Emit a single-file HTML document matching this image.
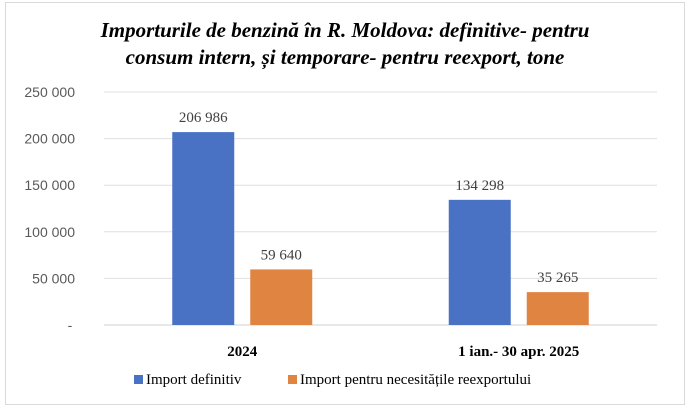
<!DOCTYPE html>
<html><head><meta charset="utf-8"><style>
body{margin:0;background:#fff;}
svg{display:block;font-family:"Liberation Sans",sans-serif;}
.ser{font-family:"Liberation Serif",serif;}
</style></head><body>
<svg width="690" height="408">
<rect x="5.5" y="2.5" width="679" height="402" fill="#fff" stroke="#d9d9d9"/>
<text class="ser" x="345" y="37" text-anchor="middle" font-size="21" font-weight="bold" font-style="italic">Importurile de benzină în R. Moldova: definitive- pentru</text>
<text class="ser" x="345" y="64" text-anchor="middle" font-size="21" font-weight="bold" font-style="italic">consum intern, și temporare- pentru reexport, tone</text>
<g id="plot"></g>
<g>
<rect x="134" y="375" width="9" height="9" fill="#4a72c4"/>
<text class="ser" x="146" y="384" font-size="15">Import definitiv</text>
<rect x="288" y="375" width="9" height="9" fill="#e08442"/>
<text class="ser" x="300" y="384" font-size="15">Import pentru necesitățile reexportului</text>
</g>
</svg>
<script>
const categories=["2024","1 ian.- 30 apr. 2025"];
const definitiv=[206986,134298];
const reexport=[59640,35265];
const ticks=[0,50000,100000,150000,200000,250000];
const tickLabels=["-","50 000","100 000","150 000","200 000","250 000"];
const NS="http://www.w3.org/2000/svg";
const g=document.getElementById("plot");
const x0=104,x1=657,y0=325,yTop=92,maxV=250000;
const y=v=>y0-(v/maxV)*(y0-yTop);
const band=(x1-x0)/categories.length;
const cx=i=>x0+band*(i+0.5);
const fmt=v=>String(v).replace(/\B(?=(\d{3})+(?!\d))/g," ");
function mk(tag,a,txt){const e=document.createElementNS(NS,tag);for(const k in a)e.setAttribute(k,a[k]);if(txt!=null)e.textContent=txt;g.appendChild(e);return e;}
ticks.forEach((t,i)=>{
 const l=mk("line",{x1:x0,x2:x1,y1:y(t),y2:y(t),stroke:i===0?"#d0d0d0":"#e0e0e0","stroke-width":1});
 
 
 const tx=mk("text",{x:i===0?70:75,y:y(t)+5,"text-anchor":i===0?"middle":"end","font-size":14,fill:"#595959"},tickLabels[i]);
 
 
});
const bw=62,gap=16;
categories.forEach((c,i)=>{
 const bx=cx(i)-gap/2-bw;
 const b1=mk("rect",{x:bx,y:y(definitiv[i]),width:bw,height:y0-y(definitiv[i]),fill:"#4a72c4"});
 
 
 const l1=mk("text",{class:"ser",x:bx+bw/2,y:y(definitiv[i])-10,"text-anchor":"middle","font-size":15,fill:"#404040"},fmt(definitiv[i]));
 
 
 const ox=cx(i)+gap/2;
 const b2=mk("rect",{x:ox,y:y(reexport[i]),width:bw,height:y0-y(reexport[i]),fill:"#e08442"});
 
 
 const l2=mk("text",{class:"ser",x:ox+bw/2,y:y(reexport[i])-10,"text-anchor":"middle","font-size":15,fill:"#404040"},fmt(reexport[i]));
 
 
 const cl=mk("text",{class:"ser",x:cx(i),y:356,"text-anchor":"middle","font-size":15,"font-weight":"bold"},c);
 
 
});
</script>
</body></html>
